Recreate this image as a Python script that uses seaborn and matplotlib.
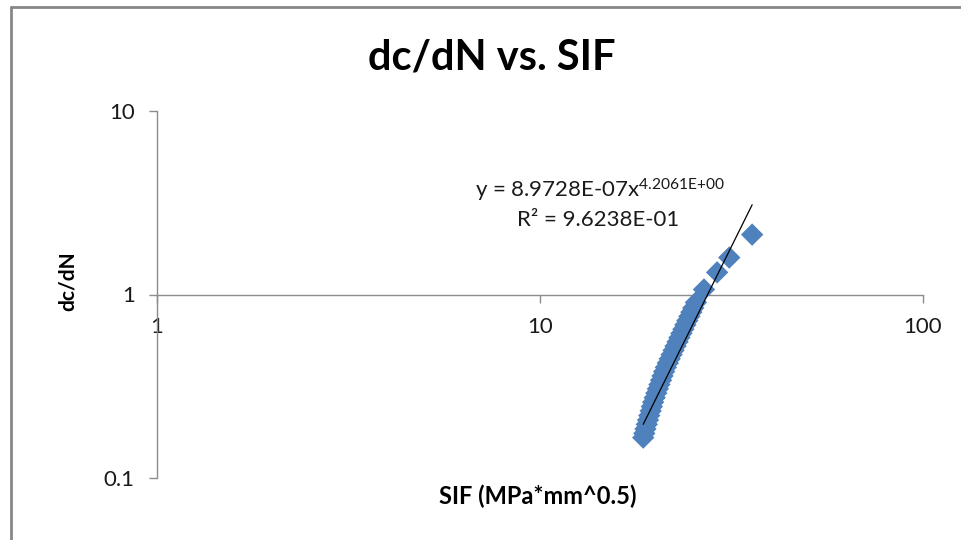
import numpy as np
import pandas as pd
import matplotlib
matplotlib.use("Agg")
import matplotlib.pyplot as plt
import seaborn as sns
from matplotlib.lines import Line2D
from matplotlib.ticker import FixedLocator, NullLocator

# ---- data ----
sif = [18.6, 18.72, 18.85, 19.0, 19.14, 19.29, 19.45, 19.59, 19.74, 19.93,
       20.12, 20.31, 20.5, 20.7, 20.89, 21.09, 21.31, 21.56, 21.81, 22.06,
       22.32, 22.58, 22.86, 23.12, 23.4, 23.68, 23.96, 24.24, 24.55, 24.84,
       25.13, 25.53, 26.8, 29.0, 31.2, 35.8]
dcdn = [0.166, 0.175, 0.185, 0.196, 0.207, 0.219, 0.232, 0.245, 0.259, 0.274,
        0.290, 0.306, 0.323, 0.341, 0.360, 0.380, 0.401, 0.423, 0.446, 0.470,
        0.496, 0.523, 0.552, 0.582, 0.614, 0.647, 0.683, 0.720, 0.760, 0.801,
        0.845, 0.905, 1.065, 1.32, 1.59, 2.12]
trend_coef = 8.9728e-07
trend_exp = 4.2061
x_ticks = [1, 10, 100]
x_tick_labels = ["1", "10", "100"]
y_ticks = [0.1, 1, 10]
y_tick_labels = ["0.1", "1", "10"]
title = "dc/dN vs. SIF"
x_label = "SIF (MPa*mm^0.5)"
y_label = "dc/dN"
eq_line1 = "y = 8.9728E-07x$^{4.2061E{+}00}$"
eq_line2 = "R² = 9.6238E-01"

sns.set_theme(style="white")
plt.rcParams["font.family"] = ["Lato", "DejaVu Sans"]
plt.rcParams["mathtext.default"] = "regular"
plt.rcParams["mathtext.fontset"] = "custom"
plt.rcParams["mathtext.rm"] = "Lato"

W, H = 961, 540
fig = plt.figure(figsize=(W / 100, H / 100), dpi=100)
fig.patch.set_facecolor("white")

def fx(px):
    return px / W

def fy(py):
    return 1 - py / H

ax = fig.add_axes([fx(157), fy(478), fx(923) - fx(157), fy(111) - fy(478)])
ax.set_facecolor("white")

df = pd.DataFrame({"sif": sif, "dcdn": dcdn})
sns.scatterplot(data=df, x="sif", y="dcdn", marker="D", s=130, color="#4F81BD",
                edgecolor="none", linewidth=0, ax=ax, zorder=3)

tx = np.geomspace(min(sif), max(sif), 50)
tdf = pd.DataFrame({"x": tx, "y": trend_coef * tx ** trend_exp})
sns.lineplot(data=tdf, x="x", y="y", color="black", linewidth=0.9, ax=ax, zorder=4)

ax.set_xscale("log")
ax.set_yscale("log")
ax.set_xlim(1, 100)
ax.set_ylim(0.1, 10)
ax.xaxis.set_major_locator(FixedLocator(x_ticks))
ax.yaxis.set_major_locator(FixedLocator(y_ticks))
ax.xaxis.set_minor_locator(NullLocator())
ax.yaxis.set_minor_locator(NullLocator())
ax.set_xticklabels(x_tick_labels)
ax.set_yticklabels(y_tick_labels)
ax.set_xlabel("")
ax.set_ylabel("")

for s in ["top", "right"]:
    ax.spines[s].set_visible(False)
ax.spines["bottom"].set_position(("data", 1))
for s in ["left", "bottom"]:
    ax.spines[s].set_color("#8c8c8c")
    ax.spines[s].set_linewidth(1.0)
ax.tick_params(axis="both", which="major", direction="out", length=6, width=1.0,
               color="#8c8c8c", labelsize=16, labelcolor="#1a1a1a")
ax.tick_params(axis="x", pad=10, bottom=True)
ax.tick_params(axis="y", pad=10, left=True)
ax.grid(False)

# texts
fig.text(fx(492), fy(57), title, ha="center", va="center", fontsize=30,
         fontweight="bold", color="black")
fig.text(fx(538), fy(496), x_label, ha="center", va="center", fontsize=17,
         fontweight="bold", color="black")
fig.text(fx(68), fy(281), y_label, ha="center", va="center", fontsize=15,
         fontweight="bold", color="black", rotation=90)
fig.text(fx(600), fy(198), eq_line1, ha="center", va="baseline", fontsize=16,
         color="#1a1a1a")
fig.text(fx(598), fy(226), eq_line2, ha="center", va="baseline", fontsize=16,
         color="#1a1a1a")

# chart-area border (partially visible, left and top)
fig.add_artist(Line2D([fx(11), fx(11)], [fy(7), 0], transform=fig.transFigure,
                      color="#878787", linewidth=2.0))
fig.add_artist(Line2D([fx(11), 1], [fy(7), fy(7)], transform=fig.transFigure,
                      color="#878787", linewidth=2.0))

fig.savefig("out.png", dpi=100)
